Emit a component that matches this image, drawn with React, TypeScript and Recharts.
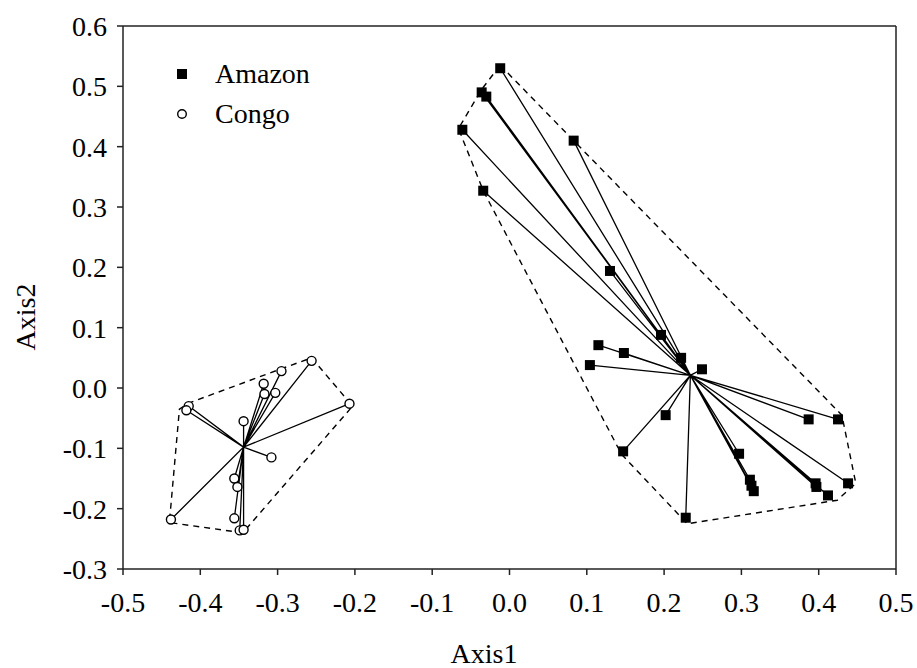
import React from 'react'
import { ScatterChart, Scatter, XAxis, YAxis, ReferenceLine, Legend } from 'recharts'

type Pt = { x: number; y: number }

const xTicks = [-0.5, -0.4, -0.3, -0.2, -0.1, 0.0, 0.1, 0.2, 0.3, 0.4, 0.5]
const yTicks = [-0.3, -0.2, -0.1, 0.0, 0.1, 0.2, 0.3, 0.4, 0.5, 0.6]

const amazonCentroid: Pt = { x: 0.234, y: 0.021 }
const amazonPoints: Pt[] = [
  { x: -0.012, y: 0.53 }, { x: -0.036, y: 0.49 }, { x: -0.03, y: 0.483 },
  { x: -0.061, y: 0.428 }, { x: 0.083, y: 0.41 }, { x: -0.034, y: 0.327 },
  { x: 0.13, y: 0.194 }, { x: 0.196, y: 0.088 }, { x: 0.222, y: 0.05 },
  { x: 0.115, y: 0.071 }, { x: 0.148, y: 0.058 }, { x: 0.104, y: 0.038 },
  { x: 0.249, y: 0.031 }, { x: 0.202, y: -0.045 }, { x: 0.147, y: -0.105 },
  { x: 0.228, y: -0.215 }, { x: 0.297, y: -0.109 }, { x: 0.311, y: -0.152 },
  { x: 0.313, y: -0.162 }, { x: 0.316, y: -0.171 }, { x: 0.387, y: -0.052 },
  { x: 0.425, y: -0.052 }, { x: 0.396, y: -0.158 }, { x: 0.397, y: -0.164 },
  { x: 0.412, y: -0.178 }, { x: 0.438, y: -0.158 },
]
const amazonHull: Pt[] = [
  { x: -0.012, y: 0.535 }, { x: 0.083, y: 0.41 }, { x: 0.43, y: -0.045 },
  { x: 0.448, y: -0.158 }, { x: 0.424, y: -0.186 }, { x: 0.23, y: -0.225 },
  { x: 0.145, y: -0.11 }, { x: -0.034, y: 0.327 }, { x: -0.066, y: 0.43 },
  { x: -0.036, y: 0.495 }, { x: -0.012, y: 0.535 },
]

const congoCentroid: Pt = { x: -0.344, y: -0.098 }
const congoPoints: Pt[] = [
  { x: -0.256, y: 0.045 }, { x: -0.295, y: 0.028 }, { x: -0.318, y: 0.007 },
  { x: -0.303, y: -0.008 }, { x: -0.317, y: -0.01 }, { x: -0.207, y: -0.026 },
  { x: -0.415, y: -0.03 }, { x: -0.418, y: -0.037 }, { x: -0.344, y: -0.055 },
  { x: -0.308, y: -0.115 }, { x: -0.356, y: -0.15 }, { x: -0.352, y: -0.164 },
  { x: -0.356, y: -0.216 }, { x: -0.438, y: -0.218 }, { x: -0.349, y: -0.236 },
  { x: -0.344, y: -0.235 },
]
const congoHull: Pt[] = [
  { x: -0.256, y: 0.05 }, { x: -0.203, y: -0.03 }, { x: -0.345, y: -0.24 },
  { x: -0.44, y: -0.223 }, { x: -0.427, y: -0.035 }, { x: -0.415, y: -0.025 },
  { x: -0.295, y: 0.032 }, { x: -0.256, y: 0.05 },
]

const groups = [
  { name: 'Amazon', kind: 'square' },
  { name: 'Congo', kind: 'circle' },
]

// point -> centroid -> point -> centroid ... gives the star of spokes
const spokes = (pts: Pt[], c: Pt) => pts.flatMap((p) => [p, c])

const FONT = 'Liberation Serif, Tinos, Times New Roman, DejaVu Serif, serif'

const Square = (props: any) => (
  <rect x={props.cx - 5} y={props.cy - 5} width={10} height={10} fill="#000" />
)
const Ring = (props: any) => (
  <circle cx={props.cx} cy={props.cy} r={4.5} fill="#fff" stroke="#000" strokeWidth={1.4} />
)
const Nothing = () => <g />

const LegendBox = () => (
  <div style={{ fontFamily: FONT, fontSize: 28, color: '#000', lineHeight: '40px' }}>
    {groups.map((g) => (
      <div key={g.name} style={{ display: 'flex', alignItems: 'center' }}>
        <svg width={24} height={12} style={{ marginRight: 21 }}>
          {g.kind === 'square' ? (
            <rect x={7} y={1} width={10} height={10} fill="#000" />
          ) : (
            <circle cx={12} cy={6} r={4.3} fill="#fff" stroke="#000" strokeWidth={1.4} />
          )}
        </svg>
        <span>{g.name}</span>
      </div>
    ))}
  </div>
)

const tickStyle = { fontFamily: FONT, fontSize: 28, fill: '#000' }

const AxisTitle = ({ x, y, angle, text }: { x: number; y: number; angle: number; text: string }) => (
  <text
    x={x}
    y={y}
    transform={`rotate(${angle} ${x} ${y})`}
    textAnchor="middle"
    fontFamily={FONT}
    fontSize={28}
    fill="#000"
  >
    {text}
  </text>
)

export default function App() {
  return (
    <div style={{ position: 'absolute', left: 0, top: 0, background: '#fff', fontFamily: FONT }}>
      <ScatterChart width={917} height={668} margin={{ top: 26, right: 21, bottom: 0, left: 0 }}>
        <XAxis
          type="number"
          dataKey="x"
          domain={[-0.5, 0.5]}
          ticks={xTicks}
          tickFormatter={(v: number) => v.toFixed(1)}
          height={99}
          tick={tickStyle}
          tickSize={6}
          tickMargin={17}
          axisLine={{ stroke: '#222', strokeWidth: 1.5 }}
          tickLine={{ stroke: '#222', strokeWidth: 1.5 }}
          allowDataOverflow
          label={{ content: () => <AxisTitle x={484} y={663} angle={0} text="Axis1" /> }}
        />
        <YAxis
          type="number"
          dataKey="y"
          domain={[-0.3, 0.6]}
          ticks={yTicks}
          tickFormatter={(v: number) => v.toFixed(1)}
          width={123}
          tick={tickStyle}
          tickSize={6}
          tickMargin={10}
          axisLine={{ stroke: '#222', strokeWidth: 1.5 }}
          tickLine={{ stroke: '#222', strokeWidth: 1.5 }}
          allowDataOverflow
          label={{ content: () => <AxisTitle x={35} y={317} angle={-90} text="Axis2" /> }}
        />
        <ReferenceLine y={0.6} stroke="#222" strokeWidth={1.5} />
        <ReferenceLine x={0.5} stroke="#222" strokeWidth={1.5} />
        <Legend
          content={<LegendBox />}
          layout="vertical"
          verticalAlign="middle"
          align="center"
          wrapperStyle={{ left: 170, top: 54, width: 200, height: 90 }}
        />

        <Scatter data={amazonHull} line={{ stroke: '#000', strokeWidth: 1.4, strokeDasharray: '6 5' }} shape={Nothing} legendType="none" isAnimationActive={false} />
        <Scatter data={congoHull} line={{ stroke: '#000', strokeWidth: 1.4, strokeDasharray: '6 5' }} shape={Nothing} legendType="none" isAnimationActive={false} />
        <Scatter data={spokes(amazonPoints, amazonCentroid)} line={{ stroke: '#000', strokeWidth: 1.3 }} shape={Nothing} legendType="none" isAnimationActive={false} />
        <Scatter data={spokes(congoPoints, congoCentroid)} line={{ stroke: '#000', strokeWidth: 1.3 }} shape={Nothing} legendType="none" isAnimationActive={false} />
        <Scatter name="Amazon" data={amazonPoints} shape={Square} isAnimationActive={false} />
        <Scatter name="Congo" data={congoPoints} shape={Ring} isAnimationActive={false} />
      </ScatterChart>
    </div>
  )
}
